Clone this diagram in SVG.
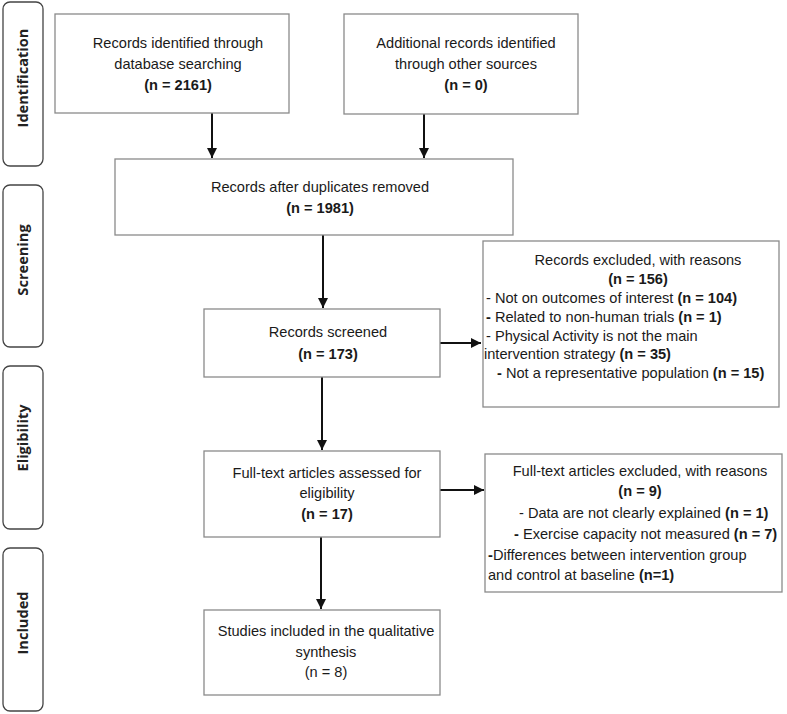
<svg xmlns="http://www.w3.org/2000/svg" width="787" height="714" viewBox="0 0 787 714">
<style>
.tab{fill:#fff;stroke:#444;stroke-width:1.3}
.tabt{font-family:"Open Sans","Liberation Sans",sans-serif;font-weight:700;font-size:14.6px;fill:#222;text-anchor:middle}
.box{fill:#fff;stroke:#8a8a8a;stroke-width:1.3}
.t{font-family:"Liberation Sans",Arial,sans-serif;font-size:14.6px;fill:#1a1a1a}
.c{text-anchor:middle}
.b{font-weight:700}
.con{stroke:#111;stroke-width:2;fill:none}
</style>
<defs>
<marker id="ah" viewBox="0 0 10 10" refX="10" refY="5" markerWidth="5" markerHeight="5" orient="auto" markerUnits="strokeWidth">
<path d="M0,0 L10,5 L0,10 z" fill="#111"/>
</marker>
</defs>
<rect width="787" height="714" fill="#fff"/>

<g id="tab-identification"><rect class="tab" x="3" y="2" width="40" height="164" rx="7"/><text class="tabt" transform="translate(28,78) rotate(-90)">Identification</text></g>
<g id="tab-screening"><rect class="tab" x="3" y="185" width="40" height="162" rx="7"/><text class="tabt" transform="translate(28,260) rotate(-90)">Screening</text></g>
<g id="tab-eligibility"><rect class="tab" x="3" y="366" width="40" height="163" rx="7"/><text class="tabt" transform="translate(28,438) rotate(-90)">Eligibility</text></g>
<g id="tab-included"><rect class="tab" x="3" y="548" width="40" height="163" rx="7"/><text class="tabt" transform="translate(28,623) rotate(-90)">Included</text></g>

<g id="connectors">
<line class="con" x1="212" y1="113" x2="212" y2="158" marker-end="url(#ah)"/>
<line class="con" x1="424" y1="114" x2="424" y2="158" marker-end="url(#ah)"/>
<line class="con" x1="323" y1="235" x2="323" y2="308" marker-end="url(#ah)"/>
<line class="con" x1="440" y1="343" x2="481" y2="343" marker-end="url(#ah)"/>
<line class="con" x1="322" y1="377" x2="322" y2="450" marker-end="url(#ah)"/>
<line class="con" x1="440" y1="490" x2="484" y2="490" marker-end="url(#ah)"/>
<line class="con" x1="321" y1="537" x2="321" y2="609" marker-end="url(#ah)"/>
</g>

<g id="n1"><rect class="box" x="55" y="14" width="234" height="99"/>
<text class="t c" x="178" y="48">Records identified through</text>
<text class="t c" x="178" y="69">database searching</text>
<text class="t c b" x="178" y="90">(n = 2161)</text></g>

<g id="n2"><rect class="box" x="344" y="14" width="234" height="100"/>
<text class="t c" x="466" y="48">Additional records identified</text>
<text class="t c" x="466" y="69">through other sources</text>
<text class="t c b" x="466" y="90">(n = 0)</text></g>

<g id="n3"><rect class="box" x="115" y="159" width="398" height="76"/>
<text class="t c" x="320" y="192">Records after duplicates removed</text>
<text class="t c b" x="320" y="213">(n = 1981)</text></g>

<g id="n4"><rect class="box" x="204" y="309" width="236" height="68"/>
<text class="t c" x="328" y="337">Records screened</text>
<text class="t c b" x="328" y="359">(n = 173)</text></g>

<g id="n5"><rect class="box" x="483" y="241" width="296" height="166"/>
<text class="t c" x="638" y="265">Records excluded, with reasons</text>
<text class="t c b" x="638" y="284">(n = 156)</text>
<text class="t" x="486" y="303">- Not on outcomes of interest <tspan class="b">(n = 104)</tspan></text>
<text class="t" x="486" y="322"><tspan class="b">-</tspan> Related to non-human trials <tspan class="b">(n = 1)</tspan></text>
<text class="t" x="486" y="341">- Physical Activity is not the main</text>
<text class="t" x="484" y="359">intervention strategy <tspan class="b">(n = 35)</tspan></text>
<text class="t" x="497" y="378"><tspan class="b">-</tspan> Not a representative population <tspan class="b">(n = 15)</tspan></text></g>

<g id="n6"><rect class="box" x="204" y="451" width="236" height="86"/>
<text class="t c" x="327" y="478">Full-text articles assessed for</text>
<text class="t c" x="327" y="498">eligibility</text>
<text class="t c b" x="327" y="519">(n = 17)</text></g>

<g id="n7"><rect class="box" x="485" y="454" width="297" height="138"/>
<text class="t c" x="640" y="476">Full-text articles excluded, with reasons</text>
<text class="t c b" x="640" y="496">(n = 9)</text>
<text class="t" x="519" y="518">- Data are not clearly explained <tspan class="b">(n = 1)</tspan></text>
<text class="t" x="514" y="539"><tspan class="b">-</tspan> Exercise capacity not measured <tspan class="b">(n = 7)</tspan></text>
<text class="t" x="488" y="560"><tspan class="b">-</tspan>Differences between intervention group</text>
<text class="t" x="488" y="580">and control at baseline <tspan class="b">(n=1)</tspan></text></g>

<g id="n8"><rect class="box" x="204" y="610" width="236" height="85"/>
<text class="t c" x="326" y="636">Studies included in the qualitative</text>
<text class="t c" x="326" y="657">synthesis</text>
<text class="t c" x="326" y="677">(n = 8)</text></g>
</svg>
